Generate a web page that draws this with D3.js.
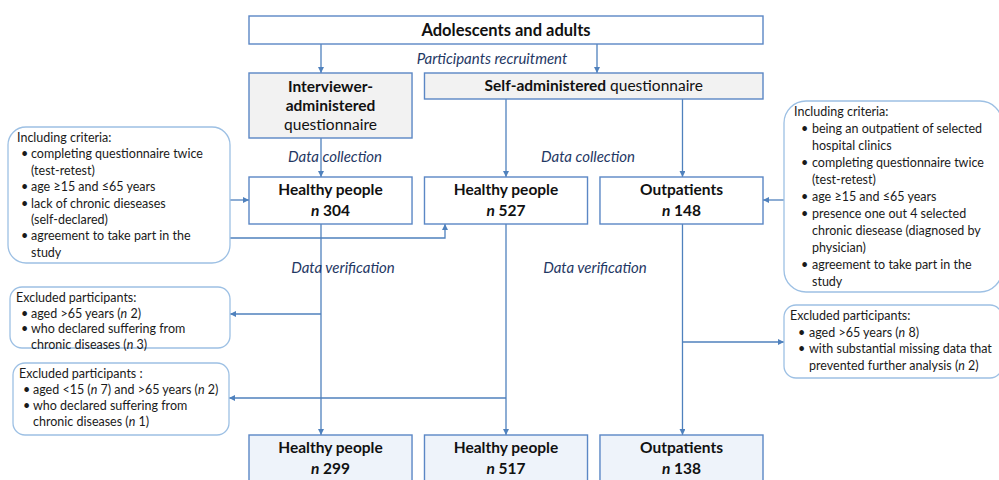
<!DOCTYPE html>
<html>
<head>
<meta charset="utf-8">
<script src="https://cdn.jsdelivr.net/npm/d3@7"></script>
<style>
  body { margin: 0; background: #fff; }
  text { font-family: Lato, "Open Sans", sans-serif; }
</style>
</head>
<body>
<div id="flow"></div>
<script>
// ---- data ----
let sourceLabel = "Adolescents and adults";
let stageLabels = ["Participants recruitment", "Data collection", "Data verification"];
let groupNames = ["Healthy people", "Healthy people", "Outpatients"];
let collectedCounts = [304, 527, 148];
let verifiedCounts = [299, 517, 138];
let includeHealthy = [
    ["completing questionnaire twice", "(test-retest)"],
    ["age \u226515 and \u226465 years"],
    ["lack of chronic dieseases", "(self-declared)"],
    ["agreement to take part in the", "study"]
];
let includeOutpatients = [
    ["being an outpatient of selected", "hospital clinics"],
    ["completing questionnaire twice", "(test-retest)"],
    ["age \u226515 and \u226465 years"],
    ["presence one out 4 selected", "chronic diesease (diagnosed by", "physician)"],
    ["agreement to take part in the", "study"]
];
let excludedInterview = [
    ["aged >65 years ({n} 2)"],
    ["who declared suffering from", "chronic diseases ({n} 3)"]
];
let excludedSelf = [
    ["aged <15 ({n} 7) and >65 years ({n} 2)"],
    ["who declared suffering from", "chronic diseases ({n} 1)"]
];
let excludedOutpatients = [
    ["aged >65 years ({n} 8)"],
    ["with substantial missing data that", "prevented further analysis ({n} 2)"]
];

// ---- layout ----
let width = 999, height = 480;
let lineColor = "#4f81bd", boxStroke = "#5b87c5", softStroke = "#9dc0e4", labelColor = "#1f3864";

let col = d3.scaleBand().domain([0, 1, 2]).range([249, 763]).paddingInner(0.071);
let row = d3.scaleOrdinal()
    .domain(["source", "mode", "collected", "verified"])
    .range([16, 73, 177, 435]);
let stemX = [321, col(1) + col.bandwidth() / 2, col(2) + col.bandwidth() / 2 + 1];

let svg = d3.select("#flow")
    .append("svg")
    .attr("width", width)
    .attr("height", height);

svg.append("defs").append("marker")
    .attr("id", "arrow")
    .attr("viewBox", "0 0 6 6")
    .attr("refX", 6).attr("refY", 3)
    .attr("markerWidth", 6).attr("markerHeight", 6)
    .attr("markerUnits", "userSpaceOnUse")
    .attr("orient", "auto")
    .append("path")
    .attr("d", "M0,0L6,3L0,6Z")
    .attr("fill", lineColor);

function box(x, y, w, h, fill) {
    svg.append("rect")
        .attr("x", x).attr("y", y).attr("width", w).attr("height", h)
        .attr("fill", fill).attr("stroke", boxStroke).attr("stroke-width", 1.4);
}

function addRich(sel, str) {
    str.split(/(\{n\})/).forEach(function (part) {
        if (part === "{n}") sel.append("tspan").attr("font-style", "italic").text("n");
        else if (part) sel.append("tspan").text(part);
    });
}

function link(points, arrow) {
    svg.append("path")
        .attr("d", d3.line()(points))
        .attr("fill", "none")
        .attr("stroke", lineColor)
        .attr("stroke-width", 1.3)
        .attr("marker-end", arrow ? "url(#arrow)" : null);
}

function countBox(i, rowName, count, fill) {
    let x = col(i), y = row(rowName), w = col.bandwidth();
    box(x, y, w, 47, fill);
    svg.append("text")
        .attr("x", x + w / 2).attr("y", y + 18)
        .attr("text-anchor", "middle")
        .attr("font-size", "15.5px").attr("font-weight", "bold")
        .attr("fill", "#111")
        .text(groupNames[i]);
    let t = svg.append("text")
        .attr("x", x + w / 2).attr("y", y + 39)
        .attr("text-anchor", "middle")
        .attr("font-size", "15.5px").attr("font-weight", "bold")
        .attr("fill", "#111");
    addRich(t, "{n} " + count);
}

// pad = [title x, bullet x, text x] relative to box left
function noteBox(x, y, w, h, r, title, items, lineH, pad) {
    svg.append("rect")
        .attr("x", x).attr("y", y).attr("width", w).attr("height", h)
        .attr("rx", r).attr("ry", r)
        .attr("fill", "#fff").attr("stroke", softStroke).attr("stroke-width", 1.3);
    let g = svg.append("g")
        .attr("font-size", "12.5px").attr("fill", "#1a1a1a");
    let ty = y + 15;
    g.append("text").attr("x", x + pad[0]).attr("y", ty).text(title);
    items.forEach(function (lines) {
        lines.forEach(function (line, j) {
            ty += lineH;
            if (j === 0) g.append("text").attr("x", x + pad[1]).attr("y", ty).text("\u2022");
            addRich(g.append("text").attr("x", x + pad[2]).attr("y", ty), line);
        });
    });
}

// ---- links (drawn first so boxes sit on top) ----
link([[stemX[0], 44], [stemX[0], row("mode")]], true);
link([[597, 44], [597, row("mode")]], true);
link([[stemX[0], 138], [stemX[0], row("collected")]], true);
link([[stemX[1], 99], [stemX[1], row("collected")]], true);
link([[stemX[2], 99], [stemX[2], row("collected")]], true);
link([[230, 200], [col(0), 200]], true);
link([[230, 238], [445, 238], [445, 224]], true);
link([[784, 200], [col(2) + col.bandwidth(), 200]], true);
stemX.forEach(function (x) { link([[x, 224], [x, row("verified")]], true); });
link([[stemX[0], 314], [230, 314]], true);
link([[stemX[1], 398], [229, 398]], true);
link([[stemX[2], 342], [784, 342]], true);

// ---- source box ----
box(col(0), row("source"), 763 - col(0), 28, "#fff");
svg.append("text")
    .attr("x", (col(0) + 763) / 2).attr("y", row("source") + 20)
    .attr("text-anchor", "middle")
    .attr("font-size", "16.5px").attr("font-weight", "bold").attr("fill", "#111")
    .text(sourceLabel);

// ---- questionnaire mode boxes ----
box(col(0), row("mode"), col.bandwidth(), 65, "#f2f2f2");
[["Interviewer-", "bold"], ["administered", "bold"], ["questionnaire", "normal"]]
    .forEach(function (d, i) {
        svg.append("text")
            .attr("x", col(0) + col.bandwidth() / 2).attr("y", row("mode") + 19 + i * 19)
            .attr("text-anchor", "middle")
            .attr("font-size", "15.5px").attr("font-weight", d[1]).attr("fill", "#111")
            .text(d[0]);
    });
box(col(1), row("mode"), 763 - col(1), 26, "#f2f2f2");
let selfText = svg.append("text")
    .attr("x", (col(1) + 763) / 2).attr("y", row("mode") + 18)
    .attr("text-anchor", "middle")
    .attr("font-size", "15.5px").attr("fill", "#111");
selfText.append("tspan").attr("font-weight", "bold").text("Self-administered");
selfText.append("tspan").text(" questionnaire");

// ---- stage labels ----
[[stageLabels[0], 492, 64], [stageLabels[1], 335, 162], [stageLabels[1], 588, 162],
 [stageLabels[2], 343, 273], [stageLabels[2], 595, 273]].forEach(function (d) {
    svg.append("text")
        .attr("x", d[1]).attr("y", d[2])
        .attr("text-anchor", "middle")
        .attr("font-size", "15px").attr("font-style", "italic")
        .attr("fill", labelColor)
        .text(d[0]);
});

// ---- count boxes ----
collectedCounts.forEach(function (c, i) { countBox(i, "collected", c, "#fff"); });
verifiedCounts.forEach(function (c, i) { countBox(i, "verified", c, "#eef3fa"); });

// ---- criteria / exclusion notes ----
noteBox(8, 127, 222, 136, 18, "Including criteria:", includeHealthy, 16.4, [9, 13, 23]);
noteBox(784, 101, 218, 191, 22, "Including criteria:", includeOutpatients, 17, [10, 17, 28]);
noteBox(10, 287, 220, 61, 12, "Excluded participants:", excludedInterview, 15.6, [6, 11, 21]);
noteBox(13, 363, 216, 72, 12, "Excluded participants :", excludedSelf, 16, [6, 10, 20]);
noteBox(784, 305, 218, 73, 12, "Excluded participants:", excludedOutpatients, 16.5, [6, 14, 25]);
</script>
</body>
</html>
